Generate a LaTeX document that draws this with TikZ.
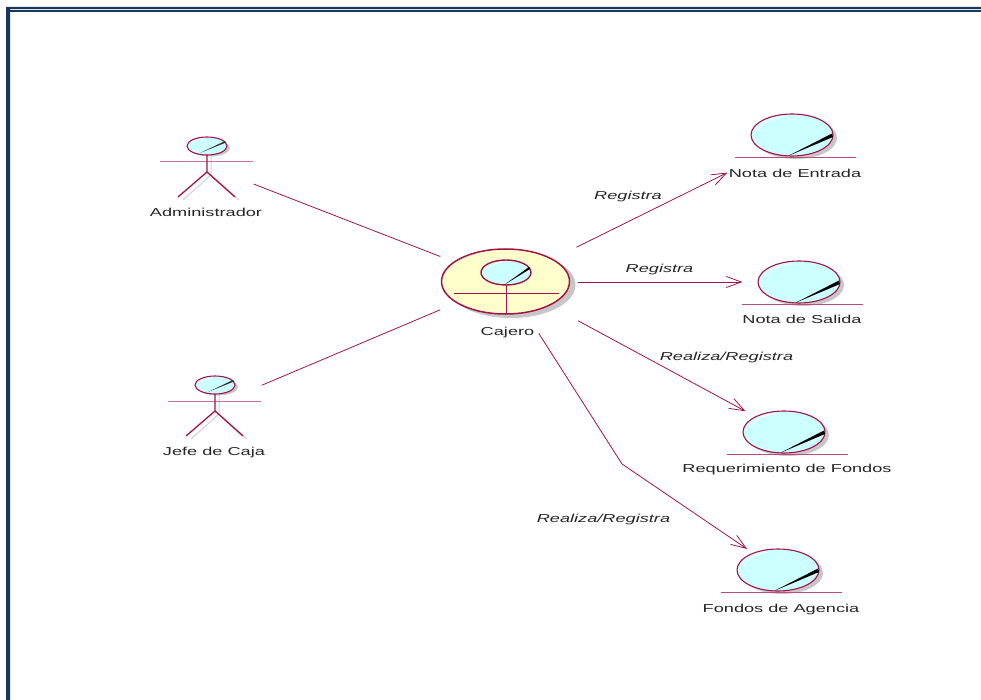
\documentclass[tikz,border=0pt]{standalone}
\usepackage{fontspec}
\setmainfont[FakeStretch=1.58]{Liberation Sans}
\usetikzlibrary{shapes.geometric,arrows.meta}
\definecolor{rosered}{HTML}{A3134A}
\definecolor{umlcyan}{HTML}{CCFFFF}
\definecolor{umlyellow}{HTML}{FFFFCC}
\definecolor{frameblue}{HTML}{17375E}
\tikzset{
  relline/.style={draw=rosered,line width=0.8pt},
  navline/.style={relline,-{Straight Barb[length=15pt,width=11pt]}},
  umlname/.style={font=\fontsize{11.5}{13}\selectfont,inner sep=3pt,text=black!85},
  rolename/.style={font=\fontsize{11.5}{13}\selectfont\itshape,inner sep=0pt,text=black!85},
  umlshadow/.style={ellipse,fill=black!22,inner sep=0pt},
  umlhead/.style={ellipse,draw=rosered,fill=umlcyan,line width=1.1pt,inner sep=0pt},
  stick/.style={draw=rosered,line width=1.3pt},
  stickshadow/.style={draw=black!18,line width=1pt}
}
\newcommand{\actorfig}[5]{%
  \begin{scope}[shift={(#2,#3)}]
    \node[minimum width=93pt,minimum height=62pt,inner sep=0pt] (#1) at (0,0) {};
    \node[umlshadow,minimum width=40pt,minimum height=17pt] at (3,-18) {};
    \draw[stickshadow] (4,-11) -- (4,9) (-24,34) -- (4,9) -- (32,34);
    \node[umlhead,minimum width=40pt,minimum height=18pt] (#1head) at (0,-20) {};
    \draw[white,line width=0.6pt] (-14,-22) .. controls (-12,-26) and (-8,-27) .. (-3,-27);
    \fill[black!80] (-7,-13) -- (18,-25) -- (19,-23.5) -- cycle;
    \draw[stick,draw=rosered!60,line width=1pt] (-47,-4) -- (46,-4);
    \draw[stick] (0,-11) -- (0,6) (-29,31) -- (0,6) -- (28,31);
    \node[umlname] (#1lbl) at (-1,#5) {#4};
  \end{scope}
}
\newcommand{\entityfig}[5]{%
  \begin{scope}[shift={(#2,#3)}]
    \node[umlshadow,minimum width=82pt,minimum height=42pt] at (4,3) {};
    \node[umlhead,minimum width=82pt,minimum height=42pt] (#1) at (0,0) {};
    \draw[white,line width=0.8pt] (-34,-4) .. controls (-30,-13) and (-20,-17) .. (-8,-18);
    \fill[black] (-4,21) -- (40,-1.5) -- (41,2) -- cycle;
    \draw[relline,draw=rosered!75] (-57,22.5) -- (64,22.5);
    \node[umlname] (#1lbl) at (3,#5) {#4};
  \end{scope}
}
\begin{document}
\begin{tikzpicture}[x=1pt,y=-1pt]
    \useasboundingbox (0,0) rectangle (981,700);
    \fill[frameblue] (6,7) rectangle (981,9) (6,10) rectangle (981,12) (6,7) rectangle (10,700);

    \actorfig{administrador}{207}{166}{Administrador}{46.5}
    \actorfig{jefe}{215}{405}{Jefe de Caja}{47.5}

    \node[umlshadow,minimum width=129pt,minimum height=66pt] at (511,285) {};
    \node[ellipse,draw=rosered,fill=umlyellow,line width=1.5pt,inner sep=0pt,
      minimum width=128pt,minimum height=65pt] (cajeroshape) at (505.5,281.5) {};
    \node[umlhead,line width=1.4pt,minimum width=50pt,minimum height=25pt] (cajerohead) at (506,272.5) {};
    \draw[white,line width=0.8pt] (488,270) .. controls (490,265) and (496,263) .. (503,262);
    \fill[black] (504,285) -- (529,267) -- (530,269) -- cycle;
    \draw[stick] (454,293.5) -- (559,293.5) (506.5,285) -- (506.5,314);
    \node[minimum width=144pt,minimum height=102pt,inner sep=0pt] (cajero) at (506,282) {};
    \node[umlname] (cajerolbl) at (507.5,333) {Cajero};

    \entityfig{entrada}{792}{135}{Nota de Entrada}{38.5}
    \entityfig{salida}{799}{282}{Nota de Salida}{37.5}
    \entityfig{requer}{784}{432}{Requerimiento de Fondos}{38}
    \entityfig{fondos}{778}{570}{Fondos de Agencia}{39.5}

    \coordinate (elbow) at (622,464);
    \draw[relline,shorten >=-7pt] (administrador) -- (cajero);
    \draw[relline,shorten >=-7pt] (jefe) -- (cajero);
    \draw[navline,shorten <=-2pt,shorten >=-2pt] (cajero) -- (entradalbl.west);
    \draw[navline,shorten >=15pt] (cajero) -- (salida);
    \draw[navline,shorten >=11pt] (cajero) -- (requer);
    \draw[navline,shorten >=7pt] (cajero) -- (elbow) -- (fondos);

    \node[rolename] (rolea) at (628,197) {Registra};
    \node[rolename] (roleb) at (659.5,270) {Registra};
    \node[rolename] (rolec) at (726.5,358) {Realiza/Registra};
    \node[rolename] (roled) at (603.5,520) {Realiza/Registra};
\end{tikzpicture}
\end{document}
